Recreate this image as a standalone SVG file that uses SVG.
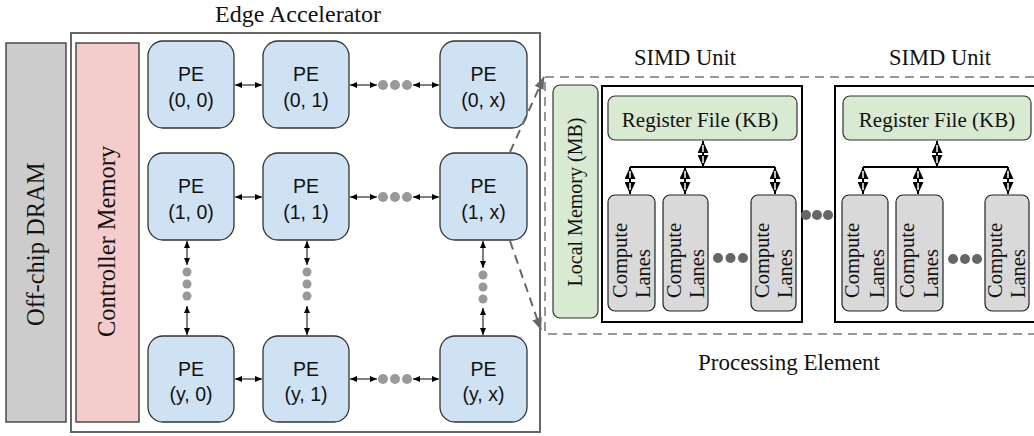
<svg xmlns="http://www.w3.org/2000/svg" width="1034" height="436" viewBox="0 0 1034 436">
  <style>
    .serif { font-family: "Liberation Serif", "Times New Roman", serif; fill: #111; }
    .pe { fill: #cfe2f3; stroke: #333; stroke-width: 1.3; }
    .pe-t { font-family: "Liberation Sans", Arial, sans-serif; font-size: 19.5px; text-anchor: middle; fill: #111; }
    .lane { fill: #d9d9d9; stroke: #222; stroke-width: 1.2; }
    .lane-t { font-family: "Liberation Serif", "Times New Roman", serif; font-size: 20.5px; fill: #111; }
    .green { fill: #d9ead3; stroke: #333; stroke-width: 1.2; }
    .simd { fill: #fff; stroke: #000; stroke-width: 2; }
    .link { stroke: #000; stroke-width: 1; fill: none; marker-start: url(#ah); marker-end: url(#ah); }
    .bus { stroke: #000; stroke-width: 2; fill: none; }
    .bus-a { stroke: #000; stroke-width: 2; fill: none; marker-start: url(#bh); marker-end: url(#bh); }
    .dot { fill: #999; }
    .dot2 { fill: #666; }
    .zoom { stroke: #666; stroke-width: 2; stroke-dasharray: 9 6; fill: none; marker-end: url(#gh); }
  </style>
  <defs>
    <marker id="ah" viewBox="0 0 7 6" refX="7" refY="3" markerWidth="7" markerHeight="6" markerUnits="userSpaceOnUse" orient="auto-start-reverse">
      <path d="M0,0 L7,3 L0,6 Z" fill="#000"/>
    </marker>
    <marker id="bh" viewBox="0 0 12 11" refX="12" refY="5.5" markerWidth="12" markerHeight="11" markerUnits="userSpaceOnUse" orient="auto-start-reverse">
      <path d="M0,0 L12,5.5 L0,11 Z" fill="#000"/>
      <path d="M1,5.5 L8,5.5" stroke="#fff" stroke-width="1.5"/>
    </marker>
    <marker id="gh" viewBox="0 0 12 10" refX="12" refY="5" markerWidth="12" markerHeight="10" markerUnits="userSpaceOnUse" orient="auto">
      <path d="M0,0 L12,5 L0,10 Z" fill="#666"/>
    </marker>
  </defs>

  <!-- off-chip memory -->
  <g id="dram">
    <rect x="6" y="43" width="60" height="379" fill="#cccccc" stroke="#333" stroke-width="1.3"/>
    <text class="serif" font-size="24.5" transform="translate(44,326) rotate(-90)">Off-chip DRAM</text>
  </g>

  <!-- accelerator boundary -->
  <g id="edge-accelerator">
    <rect x="71" y="33" width="469" height="399" fill="none" stroke="#666" stroke-width="2"/>
    <text class="serif" font-size="24" x="298" y="22" text-anchor="middle">Edge Accelerator</text>
  </g>

  <g id="controller-memory">
    <rect x="76" y="43" width="63" height="379" fill="#f4cccc" stroke="#333" stroke-width="1.3"/>
    <text class="serif" font-size="24.5" transform="translate(115,337) rotate(-90)">Controller Memory</text>
  </g>

  <!-- PE grid -->
  <g id="pe-0-0"><rect class="pe" x="148" y="41" width="86" height="87" rx="15"/><text class="pe-t" x="191" y="81">PE</text><text class="pe-t" x="191" y="107">(0, 0)</text></g>
  <g id="pe-0-1"><rect class="pe" x="263" y="41" width="86" height="87" rx="15"/><text class="pe-t" x="306" y="81">PE</text><text class="pe-t" x="306" y="107">(0, 1)</text></g>
  <g id="pe-0-x"><rect class="pe" x="440" y="41" width="87" height="87" rx="15"/><text class="pe-t" x="483.5" y="81">PE</text><text class="pe-t" x="483.5" y="107">(0, x)</text></g>
  <g id="pe-1-0"><rect class="pe" x="148" y="153" width="86" height="87" rx="15"/><text class="pe-t" x="191" y="193">PE</text><text class="pe-t" x="191" y="219">(1, 0)</text></g>
  <g id="pe-1-1"><rect class="pe" x="263" y="153" width="86" height="87" rx="15"/><text class="pe-t" x="306" y="193">PE</text><text class="pe-t" x="306" y="219">(1, 1)</text></g>
  <g id="pe-1-x"><rect class="pe" x="440" y="153" width="87" height="87" rx="15"/><text class="pe-t" x="483.5" y="193">PE</text><text class="pe-t" x="483.5" y="219">(1, x)</text></g>
  <g id="pe-y-0"><rect class="pe" x="148" y="336" width="86" height="86" rx="15"/><text class="pe-t" x="191" y="376">PE</text><text class="pe-t" x="191" y="401">(y, 0)</text></g>
  <g id="pe-y-1"><rect class="pe" x="263" y="336" width="86" height="86" rx="15"/><text class="pe-t" x="306" y="376">PE</text><text class="pe-t" x="306" y="401">(y, 1)</text></g>
  <g id="pe-y-x"><rect class="pe" x="440" y="336" width="87" height="86" rx="15"/><text class="pe-t" x="483.5" y="376">PE</text><text class="pe-t" x="483.5" y="401">(y, x)</text></g>

  <!-- processing element detail -->
  <g id="processing-element">
    <rect x="545" y="77" width="500" height="257" fill="none" stroke="#999" stroke-width="2" stroke-dasharray="9 6"/>
    <text class="serif" font-size="23" x="789" y="370" text-anchor="middle">Processing Element</text>
  </g>

  <g id="local-memory">
    <rect class="green" x="553" y="85" width="45" height="233" rx="7"/>
    <text class="serif" font-size="20" x="0" y="0" text-anchor="middle" transform="translate(582,202) rotate(-90)">Local Memory (MB)</text>
  </g>

  <g id="simd-unit-1">
    <text class="serif" font-size="22.5" x="685" y="65" text-anchor="middle">SIMD Unit</text>
    <rect class="simd" x="602" y="86" width="200" height="236"/>
    <rect class="green" x="608" y="96" width="189" height="44" rx="7"/>
    <text class="serif" font-size="21" x="700" y="127" text-anchor="middle">Register File (KB)</text>
    <rect class="lane" x="608" y="195" width="47" height="116" rx="7"/>
    <text class="lane-t" transform="translate(627,298) rotate(-90)">Compute</text>
    <text class="lane-t" transform="translate(650,298) rotate(-90)">Lanes</text>
    <rect class="lane" x="663" y="195" width="45" height="116" rx="7"/>
    <text class="lane-t" transform="translate(681,298) rotate(-90)">Compute</text>
    <text class="lane-t" transform="translate(704,298) rotate(-90)">Lanes</text>
    <rect class="lane" x="751" y="195" width="45" height="116" rx="7"/>
    <text class="lane-t" transform="translate(769,298) rotate(-90)">Compute</text>
    <text class="lane-t" transform="translate(792,298) rotate(-90)">Lanes</text>
    <circle class="dot2" cx="718" cy="258" r="5"/>
    <circle class="dot2" cx="730.5" cy="258" r="5"/>
    <circle class="dot2" cx="743" cy="258" r="5"/>
  </g>

  <g id="simd-unit-2">
    <text class="serif" font-size="22.5" x="940" y="65" text-anchor="middle">SIMD Unit</text>
    <rect class="simd" x="835" y="86" width="210" height="236"/>
    <rect class="green" x="843" y="96" width="188" height="44" rx="7"/>
    <text class="serif" font-size="21" x="937" y="127" text-anchor="middle">Register File (KB)</text>
    <rect class="lane" x="842" y="195" width="46" height="116" rx="7"/>
    <text class="lane-t" transform="translate(859,298) rotate(-90)">Compute</text>
    <text class="lane-t" transform="translate(884,298) rotate(-90)">Lanes</text>
    <rect class="lane" x="896" y="195" width="47" height="116" rx="7"/>
    <text class="lane-t" transform="translate(914,298) rotate(-90)">Compute</text>
    <text class="lane-t" transform="translate(938,298) rotate(-90)">Lanes</text>
    <rect class="lane" x="985" y="195" width="44" height="116" rx="7"/>
    <text class="lane-t" transform="translate(1002,298) rotate(-90)">Compute</text>
    <text class="lane-t" transform="translate(1025,298) rotate(-90)">Lanes</text>
    <circle class="dot2" cx="953" cy="259" r="5"/>
    <circle class="dot2" cx="965" cy="259" r="5"/>
    <circle class="dot2" cx="977" cy="259" r="5"/>
  </g>

  <!-- connectors -->
  <g id="connectors">
    <!-- row links -->
    <line class="link" x1="235" y1="85" x2="262" y2="85"/>
    <line class="link" x1="350" y1="85" x2="377" y2="85"/>
    <line class="link" x1="413" y1="85" x2="439" y2="85"/>
    <line class="link" x1="235" y1="197" x2="262" y2="197"/>
    <line class="link" x1="350" y1="197" x2="377" y2="197"/>
    <line class="link" x1="413" y1="197" x2="439" y2="197"/>
    <line class="link" x1="235" y1="379" x2="262" y2="379"/>
    <line class="link" x1="350" y1="379" x2="377" y2="379"/>
    <line class="link" x1="413" y1="379" x2="439" y2="379"/>
    <!-- column links -->
    <line class="link" x1="187" y1="241" x2="187" y2="265"/>
    <line class="link" x1="187" y1="306" x2="187" y2="335"/>
    <line class="link" x1="307" y1="241" x2="307" y2="265"/>
    <line class="link" x1="307" y1="306" x2="307" y2="335"/>
    <line class="link" x1="483" y1="241" x2="483" y2="268"/>
    <line class="link" x1="483" y1="308" x2="483" y2="335"/>
    <!-- ellipsis dots -->
    <circle class="dot" cx="383" cy="85" r="5"/><circle class="dot" cx="395" cy="85" r="5"/><circle class="dot" cx="407" cy="85" r="5"/>
    <circle class="dot" cx="383" cy="197" r="5"/><circle class="dot" cx="395" cy="197" r="5"/><circle class="dot" cx="407" cy="197" r="5"/>
    <circle class="dot" cx="383" cy="379" r="5"/><circle class="dot" cx="395" cy="379" r="5"/><circle class="dot" cx="407" cy="379" r="5"/>
    <circle class="dot" cx="187" cy="272" r="4.5"/><circle class="dot" cx="187" cy="284" r="4.5"/><circle class="dot" cx="187" cy="296" r="4.5"/>
    <circle class="dot" cx="307" cy="272" r="4.5"/><circle class="dot" cx="307" cy="284" r="4.5"/><circle class="dot" cx="307" cy="296" r="4.5"/>
    <circle class="dot" cx="483" cy="275" r="4.5"/><circle class="dot" cx="483" cy="287" r="4.5"/><circle class="dot" cx="483" cy="299" r="4.5"/>
    <!-- zoom-in callout -->
    <line class="zoom" x1="510" y1="152" x2="544" y2="77"/>
    <line class="zoom" x1="510" y1="241" x2="541" y2="330"/>
    <!-- SIMD unit ellipsis -->
    <circle class="dot2" cx="806" cy="215" r="5"/><circle class="dot2" cx="817" cy="215" r="5"/><circle class="dot2" cx="828" cy="215" r="5"/>
    <!-- register file to lanes, unit 1 -->
    <line class="bus-a" x1="703" y1="141" x2="703" y2="167"/>
    <line class="bus" x1="630" y1="167" x2="775" y2="167"/>
    <line class="bus-a" x1="630" y1="167" x2="630" y2="194"/>
    <line class="bus-a" x1="685" y1="167" x2="685" y2="194"/>
    <line class="bus-a" x1="775" y1="167" x2="775" y2="194"/>
    <!-- register file to lanes, unit 2 -->
    <line class="bus-a" x1="937" y1="141" x2="937" y2="167"/>
    <line class="bus" x1="863" y1="167" x2="1008" y2="167"/>
    <line class="bus-a" x1="863" y1="167" x2="863" y2="194"/>
    <line class="bus-a" x1="918" y1="167" x2="918" y2="194"/>
    <line class="bus-a" x1="1008" y1="167" x2="1008" y2="194"/>
  </g>
</svg>
